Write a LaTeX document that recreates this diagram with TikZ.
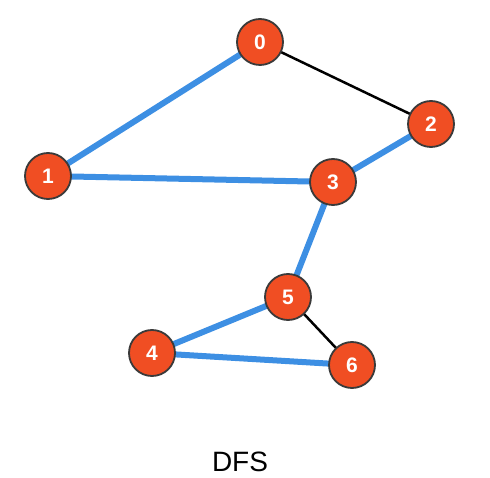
\documentclass[tikz,border=0pt]{standalone}
\usepackage{fontspec}
\setmainfont{Liberation Sans}
\usetikzlibrary{backgrounds}
\definecolor{nodefill}{HTML}{F04E23}
\definecolor{nodeborder}{HTML}{3A3A3A}
\definecolor{dfsblue}{HTML}{3D8FE3}
\begin{document}
\begin{tikzpicture}[x=1pt,y=-1pt,
  vert/.style={circle,fill=nodefill,draw=nodeborder,line width=1.8pt,minimum size=46pt,inner sep=0pt,text=white,font=\fontsize{21}{21}\selectfont\bfseries},
  tree/.style={draw=dfsblue,line width=6pt},
  back/.style={draw=black,line width=2.5pt}]
\useasboundingbox (0,0) rectangle (490,478);
\node[vert] (n0) at (260,42) {0};
\node[vert] (n1) at (48,176) {1};
\node[vert] (n2) at (431,124) {2};
\node[vert] (n3) at (333,182) {3};
\node[vert] (n4) at (152,353) {4};
\node[vert] (n5) at (288,297) {5};
\node[vert] (n6) at (352,365) {6};
\node (lbl) at (240,462) {\fontsize{28}{28}\selectfont DFS};
\begin{scope}[on background layer]
\draw[tree] (n0.center) -- (n1.center);
\draw[back] (n0.center) -- (n2.center);
\draw[tree] (n1.center) -- (n3.center);
\draw[tree] (n2.center) -- (n3.center);
\draw[tree] (n3.center) -- (n5.center);
\draw[tree] (n5.center) -- (n4.center);
\draw[tree] (n4.center) -- (n6.center);
\draw[back] (n5.center) -- (n6.center);
\end{scope}
\end{tikzpicture}
\end{document}
